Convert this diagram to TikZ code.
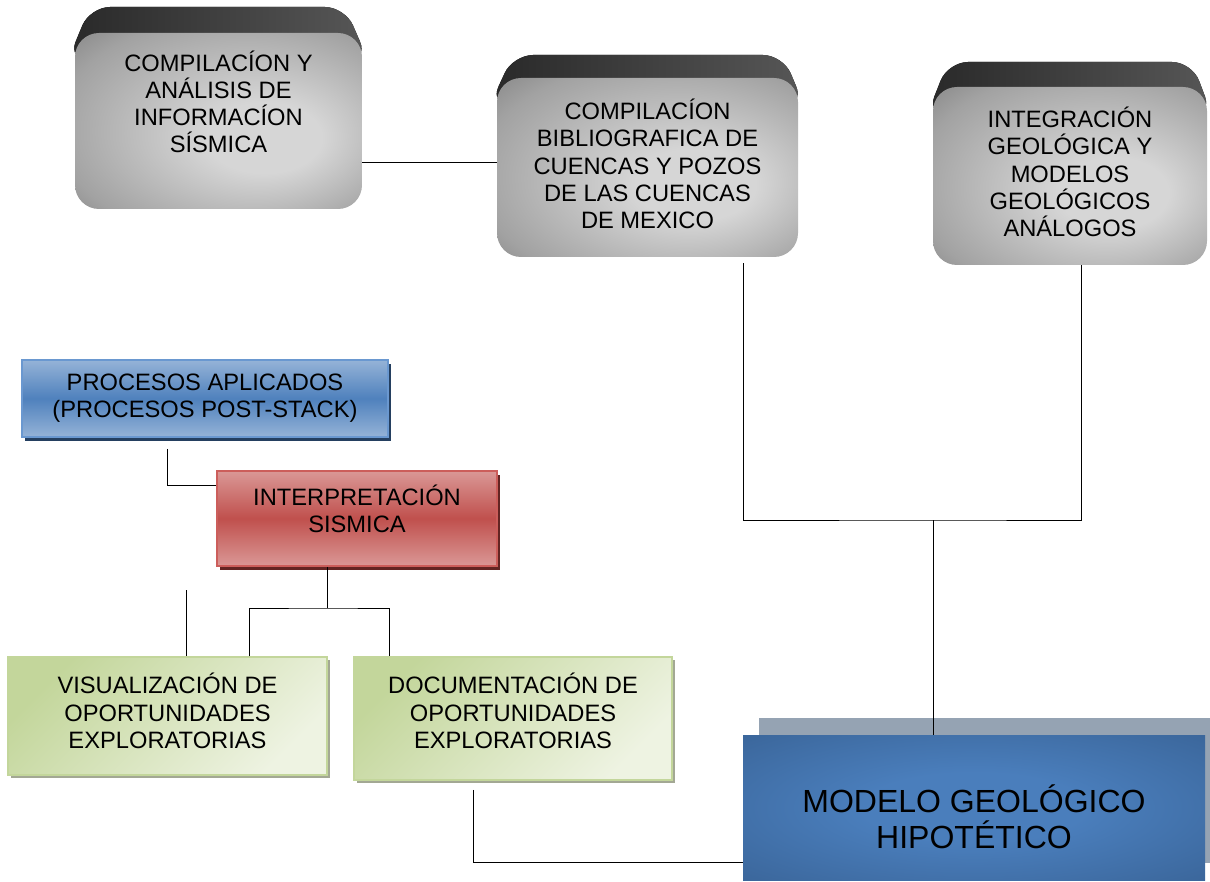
\documentclass[tikz,border=0pt]{standalone}
\usepackage{fontspec}
\setmainfont{Liberation Sans}
\usetikzlibrary{shadows,calc}
\definecolor{gL}{HTML}{D6D6D6}
\definecolor{gM}{HTML}{A2A2A2}
\definecolor{gD}{HTML}{5E5E5E}
\definecolor{mL}{HTML}{4A7EBC}
\definecolor{mD}{HTML}{355D8E}
\definecolor{mS}{HTML}{95A3B3}
\definecolor{bL}{HTML}{95B3D7}
\definecolor{bM}{HTML}{4F81BD}
\definecolor{bB}{HTML}{6A98D0}
\definecolor{bS}{HTML}{243F60}
\definecolor{rL}{HTML}{DA9896}
\definecolor{rM}{HTML}{C0504D}
\definecolor{rB}{HTML}{CC5E5B}
\definecolor{rS}{HTML}{632523}
\definecolor{grD}{HTML}{C3D69B}
\definecolor{grL}{HTML}{EEF3E2}
\definecolor{grS}{HTML}{A3A894}
\pgfdeclareradialshading{grayrad}{\pgfpoint{10bp}{-6bp}}{color(0bp)=(gL); color(10bp)=(gL); color(32bp)=(gM); color(50bp)=(gD)}
\pgfdeclareradialshading{bluerad}{\pgfpoint{0bp}{0bp}}{color(0bp)=(mL); color(12bp)=(mL); color(45bp)=(mD); color(50bp)=(mD)}
\tikzset{
  conn/.style={draw=black, line width=0.9pt},
  graybox/.style={rounded corners=24pt, shading=grayrad, inner sep=0pt},
  backtop/.style={rounded corners=20pt, left color=black!84, right color=black!66},
  txt/.style={align=center, font=\fontsize{23.7}{27.2}\selectfont, inner sep=0pt},
  bigtxt/.style={align=center, font=\fontsize{32}{36}\selectfont, inner sep=0pt},
  bluebox/.style={draw=bB, line width=1.5pt, top color=bL, bottom color=bL, middle color=bM, inner sep=0pt,
    drop shadow={shadow xshift=3pt, shadow yshift=-4pt, fill=bS, opacity=1}},
  redbox/.style={draw=rB, line width=1.5pt, top color=rL, bottom color=rL, middle color=rM, inner sep=0pt,
    drop shadow={shadow xshift=3pt, shadow yshift=-4pt, fill=rS, opacity=1}},
  greenbox/.style={draw=grD, line width=1.5pt, top color=grD, bottom color=grL, shading angle=45, inner sep=0pt,
    drop shadow={shadow xshift=3pt, shadow yshift=-3pt, fill=grS, opacity=1}},
  modelbox/.style={shading=bluerad, inner sep=0pt,
    drop shadow={shadow xshift=16pt, shadow yshift=17pt, fill=mS, opacity=1}},
}
\begin{document}
\begin{tikzpicture}[x=1pt,y=-1pt]
\useasboundingbox[fill=white] (0,0) rectangle (1210,882);

% 3D tops of the grey boxes
\fill[backtop] (68,60) -- (90,7) -- (345,7) -- (368,60) -- cycle;
\fill[backtop] (490,105) -- (513,55) -- (783,55) -- (804,105) -- cycle;
\fill[backtop] (927,115) -- (948,62) -- (1192,62) -- (1212,115) -- cycle;

% grey boxes
\node[graybox, minimum width=287pt, minimum height=176pt] (g1) at (218.5,121) {};
\node[txt] (t1) at (218.5,102) {COMPILACÍON Y\\ANÁLISIS DE\\INFORMACÍON\\SÍSMICA};
\node[graybox, minimum width=301pt, minimum height=179pt] (g2) at (647.5,167.5) {};
\node[txt] (t2) at (647.5,164) {COMPILACÍON\\BIBLIOGRAFICA DE\\CUENCAS Y POZOS\\DE LAS CUENCAS\\DE MEXICO};
\node[graybox, minimum width=274pt, minimum height=178pt] (g3) at (1070,176) {};
\node[txt] (t3) at (1070,172) {INTEGRACIÓN\\GEOLÓGICA Y\\MODELOS\\GEOLÓGICOS\\ANÁLOGOS};

% blue and red boxes
\node[bluebox, minimum width=366pt, minimum height=77pt] (p) at (205,398.5) {};
\node[txt] (tp) at (205,398) {PROCESOS APLICADOS\\(PROCESOS POST-STACK)};
\node[redbox, minimum width=280pt, minimum height=95pt] (r) at (357,518.5) {};
\node[txt] (tr) at (357,509) {INTERPRETACIÓN\\SISMICA};

% green boxes
\node[greenbox, minimum width=319pt, minimum height=118pt] (v) at (167.5,716) {};
\node[txt] (tv) at (167.5,711) {VISUALIZACIÓN DE\\OPORTUNIDADES\\EXPLORATORIAS};
\node[greenbox, minimum width=318pt, minimum height=123pt] (d) at (513,718.5) {};
\node[txt] (td) at (513,711) {DOCUMENTACIÓN DE\\OPORTUNIDADES\\EXPLORATORIAS};

% model box
\node[modelbox, minimum width=462pt, minimum height=145pt] (m) at (974,807.5) {};
\node[bigtxt] (tm) at (974,817) {MODELO GEOLÓGICO\\HIPOTÉTICO};

% connectors
\draw[conn] ([yshift=-41pt]g1.east) coordinate (c1) -- (c1 -| g2.west);
\coordinate (j) at (933,520);
\draw[conn] ([xshift=95.5pt,yshift=-6pt]g2.south) |- (j) -| ([xshift=11pt]g3.south);
\draw[conn] (j) -- (j |- m.north);
\draw[conn] ([xshift=-40pt,yshift=-9pt]d.south) |- ([yshift=-54.5pt]m.west);
\draw[conn] ([xshift=-38pt,yshift=-11pt]p.south) |- ([yshift=33.5pt]r.west);
\coordinate (k) at (327,608);
\draw[conn] ([xshift=-30pt]r.south) -- (k);
\draw[conn] ([xshift=81.5pt]v.north) |- (k) -| ([xshift=-124pt]d.north);
\coordinate (e) at (186,590);
\draw[conn] (e) -- (e |- v.north);
\end{tikzpicture}
\end{document}
